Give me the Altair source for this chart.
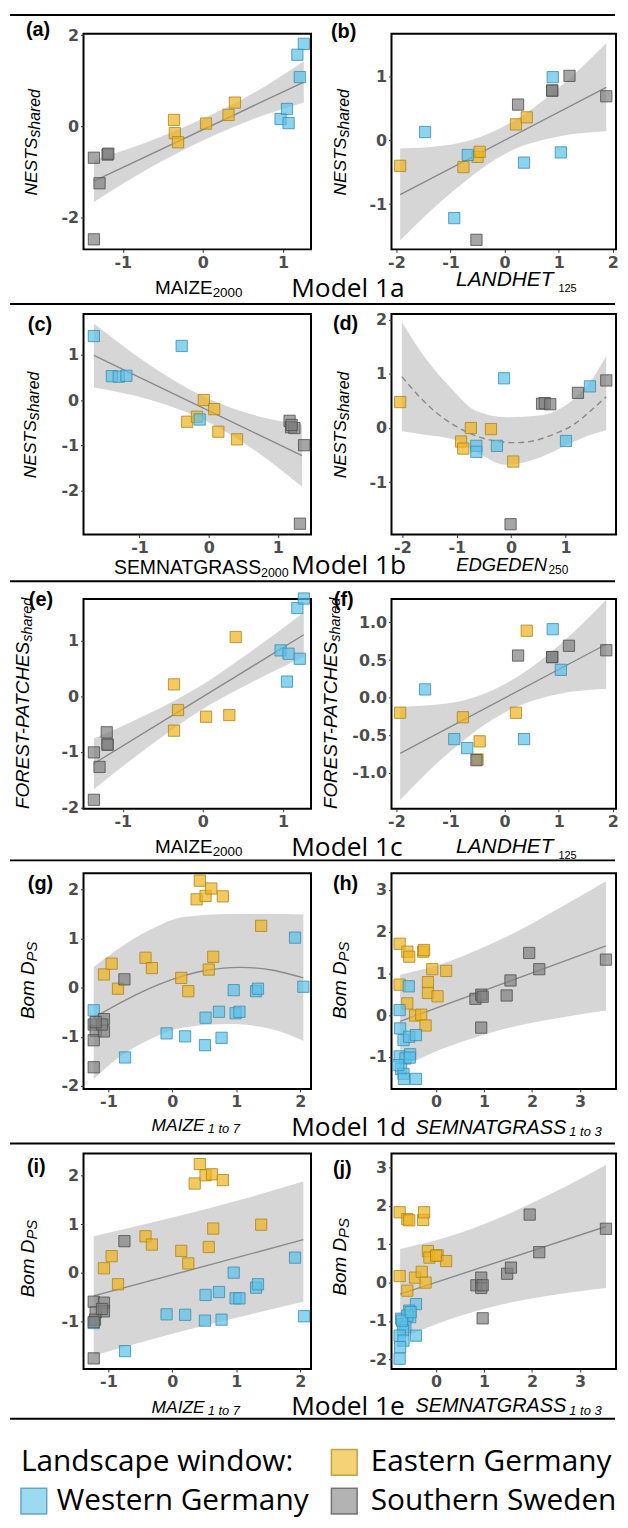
import altair as alt
import pandas as pd

GROUP_CODES = ["E", "W", "S"]
FILL_COLORS = ["#F0B41C", "#5BC0E8", "#808080"]
STROKE_COLORS = ["#A8841C", "#3A8CB0", "#4D4D4D"]

# ---------------- panel (a) NESTS ~ MAIZE2000
a_x = [-0.36, -0.35, -0.31, 0.04, 0.32, 0.40, 0.97, 1.05, 1.07, 1.21, 1.18, 1.26, -1.36, -1.19, -1.18, -1.29, -1.36]
a_y = [0.14, -0.15, -0.35, 0.06, 0.25, 0.52, 0.16, 0.38, 0.07, 1.08, 1.57, 1.81, -0.69, -0.62, -0.60, -1.25, -2.48]
a_g = ["E", "E", "E", "E", "E", "E", "W", "W", "W", "W", "W", "W", "S", "S", "S", "S", "S"]
a_lx = [-1.36, 1.26]
a_ly = [-1.20, 0.97]
a_bx = [-1.36, -0.7, 0.0, 0.6, 1.26]
a_blo = [-1.66, -0.95, -0.31, 0.14, 0.52]
a_bhi = [-0.74, -0.35, 0.17, 0.70, 1.43]

# ---------------- panel (b) NESTS ~ LANDHET125
b_x = [-1.93, -0.76, -0.50, -0.46, 0.21, 0.41, -1.47, -0.68, -0.93, 0.36, 0.89, 1.04, -0.52, 0.25, 0.88, 0.88, 1.20, 1.88]
b_y = [-0.40, -0.42, -0.26, -0.18, 0.25, 0.36, 0.13, -0.23, -1.22, -0.35, 0.99, -0.19, -1.56, 0.56, 0.78, 0.78, 1.01, 0.69]
b_g = ["E", "E", "E", "E", "E", "E", "W", "W", "W", "W", "W", "W", "S", "S", "S", "S", "S", "S"]
b_lx = [-1.93, 1.88]
b_ly = [-0.85, 0.83]
b_bx = [-1.93, -1.0, 0.1, 1.0, 1.88]
b_blo = [-1.57, -0.83, -0.17, 0.06, 0.14]
b_bhi = [-0.13, -0.07, 0.27, 0.82, 1.52]

# ---------------- panel (c) NESTS ~ SEMNATGRASS2000
c_x = [-0.31, -0.17, -0.07, 0.08, 0.14, 0.41, -1.66, -1.40, -1.30, -1.19, -0.39, -0.13, 1.17, 1.19, 1.24, 1.20, 1.38, 1.32]
c_y = [-0.48, -0.37, 0.00, -0.20, -0.70, -0.87, 1.42, 0.53, 0.52, 0.54, 1.20, -0.43, -0.46, -0.60, -0.62, -0.55, -1.00, -2.74]
c_g = ["E", "E", "E", "E", "E", "E", "W", "W", "W", "W", "W", "W", "S", "S", "S", "S", "S", "S"]
c_lx = [-1.66, 1.35]
c_ly = [0.99, -1.23]
c_bx = [-1.66, -0.9, 0.0, 0.7, 1.35]
c_blo = [0.28, 0.03, -0.49, -1.15, -1.92]
c_bhi = [1.70, 0.83, 0.03, -0.35, -0.54]

# ---------------- panel (d) NESTS ~ EDGEDEN250 (quadratic)
d_x = [-2.04, -0.92, -0.88, -0.74, -0.37, 0.04, -0.64, -0.64, -0.26, -0.13, 1.01, 1.45, 0.57, 0.62, 0.72, 1.23, 1.75, -0.01]
d_y = [0.48, -0.25, -0.38, 0.00, -0.02, -0.62, -0.33, -0.44, -0.33, 0.92, -0.24, 0.77, 0.45, 0.46, 0.44, 0.65, 0.88, -1.78]
d_g = ["E", "E", "E", "E", "E", "E", "W", "W", "W", "W", "W", "W", "S", "S", "S", "S", "S", "S"]
d_lx = [-2.01, -1.6, -1.2, -0.8, -0.4, 0.0, 0.4, 0.8, 1.2, 1.75]
d_ly = [0.95, 0.49, 0.15, -0.08, -0.22, -0.27, -0.24, -0.11, 0.10, 0.58]
d_bx = [-2.01, -1.56, -1.07, -0.67, -0.08, 0.52, 1.12, 1.48, 1.75]
d_blo = [-0.06, -0.13, -0.21, -0.43, -0.68, -0.55, -0.27, -0.12, -0.04]
d_bhi = [1.96, 1.27, 0.70, 0.33, 0.20, 0.23, 0.51, 0.89, 1.33]

# ---------------- panel (e) FOREST-PATCHES ~ MAIZE2000
e_x = [-0.36, -0.31, -0.36, 0.04, 0.33, 0.41, 0.97, 1.07, 1.21, 1.05, 1.18, 1.26, -1.36, -1.20, -1.19, -1.19, -1.29, -1.36]
e_y = [0.21, -0.25, -0.62, -0.37, -0.34, 1.06, 0.82, 0.76, 0.67, 0.26, 1.58, 1.75, -1.01, -0.65, -0.87, -0.87, -1.27, -1.86]
e_g = ["E", "E", "E", "E", "E", "E", "W", "W", "W", "W", "W", "W", "S", "S", "S", "S", "S", "S"]
e_lx = [-1.36, 1.26]
e_ly = [-1.21, 1.10]
e_bx = [-1.36, -0.7, 0.0, 0.6, 1.26]
e_blo = [-1.67, -0.93, -0.23, 0.24, 0.70]
e_bhi = [-0.76, -0.33, 0.21, 0.80, 1.50]

# ---------------- panel (f) FOREST-PATCHES ~ LANDHET125
f_x = [-1.93, -0.77, -0.50, -0.46, 0.21, 0.41, -1.47, -0.93, -0.69, 0.36, 0.89, 1.04, -0.52, 0.25, 0.88, 0.88, 1.19, 1.88]
f_y = [-0.20, -0.26, -0.82, -0.58, -0.20, 0.89, 0.11, -0.55, -0.67, -0.55, 0.91, 0.37, -0.83, 0.56, 0.54, 0.54, 0.69, 0.63]
f_g = ["E", "E", "E", "E", "E", "E", "W", "W", "W", "W", "W", "W", "S", "S", "S", "S", "S", "S"]
f_lx = [-1.93, 1.88]
f_ly = [-0.74, 0.71]
f_bx = [-1.93, -1.0, 0.1, 1.0, 1.88]
f_blo = [-1.36, -0.71, -0.16, 0.05, 0.12]
f_bhi = [-0.12, -0.07, 0.22, 0.69, 1.30]

# ---------------- panel (g) Bom D_PS ~ MAIZE 1 to 7 (quadratic)
g_x = [-1.07, -0.95, -0.85, -0.42, -0.32, 0.14, 0.25, 0.57, 0.64, 1.39, 0.38, 0.43, 0.52, 0.61, 0.79,
       -1.23, -0.74, -0.09, 0.20, 0.51, 0.52, 0.73, 0.77, 0.96, 0.99, 1.05, 1.31, 1.34, 1.92, 2.05,
       -1.23, -1.20, -1.23, -1.07, -1.07, -1.10, -1.23, -0.75, -1.20]
g_y = [0.27, 0.49, -0.02, 0.61, 0.40, 0.20, -0.07, 0.37, 0.63, 1.26, 1.80, 2.18, 1.87, 2.02, 1.86,
       -0.46, -1.42, -0.93, -0.99, -1.17, -0.61, -0.49, -1.02, -0.05, -0.52, -0.49, -0.07, -0.02, 1.02, 0.02,
       -0.75, -0.88, -1.07, -0.64, -0.89, -0.75, -1.62, 0.17, -0.70]
g_g = ["E"] * 15 + ["W"] * 15 + ["S"] * 9
g_lx = [-1.23, -0.8, -0.4, 0.0, 0.4, 0.8, 1.2, 1.6, 2.05]
g_ly = [-0.61, -0.30, -0.04, 0.17, 0.32, 0.40, 0.41, 0.35, 0.20]
g_bx = [-1.23, -0.86, -0.35, 0.18, 0.9, 1.4, 1.75, 2.05]
g_blo = [-1.86, -1.44, -1.05, -0.81, -0.74, -0.80, -0.92, -1.08]
g_bhi = [0.42, 0.78, 1.18, 1.44, 1.50, 1.50, 1.50, 1.49]

# ---------------- panel (h) Bom D_PS ~ SEMNATGRASS 1 to 3
h_x = [-0.76, -0.60, -0.56, -0.27, -0.25, -0.08, 0.21, -0.76, -0.17, -0.17, 0.03, -0.60, -0.44, -0.31, -0.22,
       -0.57, -0.76, -0.75, -0.68, -0.56, -0.42, -0.76, -0.64, -0.54, -0.73, -0.68, -0.67, -0.42, -0.79, -0.55,
       0.82, 0.94, 0.97, 0.94, 1.47, 1.55, 1.94, 2.15, 3.54]
h_y = [1.71, 1.52, 1.40, 1.52, 1.56, 1.10, 1.06, 0.73, 0.79, 0.53, 0.45, 0.28, -0.01, 0.01, -0.25,
       0.69, 0.12, -0.32, -0.60, -0.52, -0.48, -0.99, -1.04, -0.94, -1.29, -1.41, -1.53, -1.53, -1.20, -1.02,
       0.39, 0.49, 0.44, -0.30, 0.47, 0.83, 1.49, 1.10, 1.33]
h_g = ["E"] * 15 + ["W"] * 15 + ["S"] * 9
h_lx = [-0.75, 3.54]
h_ly = [-0.15, 1.66]
h_bx = [-0.75, 0.13, 1.0, 1.49, 2.5, 3.54]
h_blo = [-1.27, -0.81, -0.47, -0.31, -0.08, 0.11]
h_bhi = [0.97, 1.23, 1.63, 1.89, 2.52, 3.21]

# ---------------- panel (i) Bom D_PS ~ MAIZE 1 to 7
i_x = [-1.07, -0.95, -0.85, -0.42, -0.32, 0.14, 0.25, 0.57, 0.64, 1.39, 0.43, 0.35, 0.52, 0.62, 0.79,
       -1.23, -0.74, -0.09, 0.20, 0.51, 0.52, 0.73, 0.77, 0.96, 0.99, 1.05, 1.31, 1.34, 1.92, 2.06,
       -0.75, -1.23, -1.07, -1.20, -1.07, -1.21, -1.23, -1.10, -1.23]
i_y = [0.09, 0.34, -0.24, 0.75, 0.58, 0.45, 0.19, 0.53, 0.91, 0.99, 2.24, 1.84, 2.01, 2.03, 1.91,
       -1.04, -1.62, -0.86, -0.87, -0.99, -0.46, -0.40, -0.97, 0.00, -0.53, -0.53, -0.31, -0.24, 0.31, -0.90,
       0.65, -0.60, -0.62, -0.82, -0.80, -0.97, -1.77, -0.75, -1.02]
i_g = ["E"] * 15 + ["W"] * 15 + ["S"] * 9
i_lx = [-1.23, 2.05]
i_ly = [-0.48, 0.68]
i_bx = [-1.23, 0.0, 1.0, 2.05]
i_blo = [-1.71, -1.26, -0.93, -0.60]
i_bhi = [0.75, 1.14, 1.48, 1.88]

# ---------------- panel (j) Bom D_PS ~ SEMNATGRASS 1 to 3
j_x = [-0.76, -0.60, -0.56, -0.27, -0.25, -0.17, -0.14, 0.03, 0.21, -0.76, -0.60, -0.44, -0.30, -0.22, 0.00,
       -0.42, -0.56, -0.54, -0.73, -0.68, -0.64, -0.69, -0.76, -0.42, -0.68, -0.75, -0.76, -0.60, -0.71, -0.53,
       0.84, 0.94, 0.94, 0.97, 0.97, 1.48, 1.56, 1.95, 2.15, 3.54]
j_y = [1.83, 1.65, 1.62, 1.63, 1.83, 0.82, 0.65, 0.71, 0.56, 0.17, -0.21, 0.13, 0.28, 0.00, 0.70,
       -0.56, -0.73, -0.90, -0.94, -1.08, -1.16, -1.24, -1.38, -1.38, -1.51, -1.68, -1.98, -0.86, -0.99, -0.77,
       -0.07, 0.13, -0.14, -0.07, -0.93, 0.23, 0.39, 1.77, 0.79, 1.40]
j_g = ["E"] * 15 + ["W"] * 15 + ["S"] * 10
j_lx = [-0.75, 3.54]
j_ly = [-0.30, 1.46]
j_bx = [-0.75, 0.3, 1.2, 2.3, 3.54]
j_blo = [-1.475, -0.95, -0.62, -0.35, -0.14]
j_bhi = [0.875, 1.21, 1.62, 2.25, 3.06]

LEGEND_TITLE = "Landscape window:"
LEGEND_LABELS = ["Eastern Germany", "Western Germany", "Southern Sweden"]

LS = "Liberation Sans"
OS = "Open Sans"
ONE = pd.DataFrame({"k": [0]})
LW, RW = 229, 226
RX1, RX2 = -384, 225   # separator rule ends, relative to a right-hand panel


def txt(s, x, y, size, font=LS, italic=False, bold=False, align="left", angle=0, color="black"):
    mk = dict(text=s, font=font, fontSize=size, align=align, baseline="alphabetic", color=color)
    if italic:
        mk["fontStyle"] = "italic"
    if bold:
        mk["fontWeight"] = "bold"
    if angle:
        mk["angle"] = angle
    return alt.Chart(ONE).mark_text(**mk).encode(x=alt.value(x), y=alt.value(y))


def hline(x1, x2, y):
    return alt.Chart(ONE).mark_rule(color="black", strokeWidth=2).encode(
        x=alt.value(x1), x2=alt.value(x2), y=alt.value(y))


def legend_square(idx, x, y):
    return alt.Chart(ONE).mark_point(
        shape="square", filled=True, size=676, fill=FILL_COLORS[idx], stroke=STROKE_COLORS[idx],
        strokeWidth=1.5, fillOpacity=0.6, strokeOpacity=0.7, opacity=1).encode(x=alt.value(x), y=alt.value(y))


def lab_expr(fmt):
    return f"datum.value < 0 ? '-' + format(-datum.value, '{fmt}') : format(datum.value, '{fmt}')"


def panel(px, py, pg, bx, blo, bhi, lx, ly, xdom, ydom, xticks, yticks, w, h, yfmt="d",
          dashed=False, extras=()):
    xs = alt.Scale(domain=xdom, nice=False, zero=False)
    ys = alt.Scale(domain=ydom, nice=False, zero=False)
    xa = alt.Axis(values=xticks, title=None, labelExpr=lab_expr("d"))
    ya = alt.Axis(values=yticks, title=None, labelExpr=lab_expr(yfmt))
    band = alt.Chart(pd.DataFrame({"x": bx, "lo": blo, "hi": bhi})).mark_area(
        color="#999999", opacity=0.4, interpolate="monotone").encode(
        x=alt.X("x:Q", scale=xs, axis=xa), y=alt.Y("lo:Q", scale=ys, axis=ya), y2="hi:Q")
    lkw = dict(color="#8A8A8A", strokeWidth=1.4, interpolate="natural")
    if dashed:
        lkw["strokeDash"] = [6, 4]
    line = alt.Chart(pd.DataFrame({"x": lx, "y": ly})).mark_line(**lkw).encode(
        x=alt.X("x:Q", scale=xs, axis=xa), y=alt.Y("y:Q", scale=ys, axis=ya))
    pts = alt.Chart(pd.DataFrame({"x": px, "y": py, "g": pg})).mark_point(
        shape="square", filled=True, size=128, strokeWidth=1, fillOpacity=0.7, strokeOpacity=0.8,
        opacity=1).encode(
        x=alt.X("x:Q", scale=xs, axis=xa), y=alt.Y("y:Q", scale=ys, axis=ya),
        fill=alt.Fill("g:N", scale=alt.Scale(domain=GROUP_CODES, range=FILL_COLORS), legend=None),
        stroke=alt.Stroke("g:N", scale=alt.Scale(domain=GROUP_CODES, range=STROKE_COLORS), legend=None))
    return alt.layer(band, line, pts, *extras).properties(width=w, height=h)


H1, H2, H3, H4, H5 = 217, 222, 211, 217, 217

pa = panel(a_x, a_y, a_g, a_bx, a_blo, a_bhi, a_lx, a_ly, [-1.49, 1.35], [-2.70, 2.03], [-1, 0, 1], [-2, 0, 2],
           LW, H1, extras=[
               txt("(a)", -58, 2, 20, bold=True),
               txt("MAIZE", 130, 262, 19, align="right"),
               txt("2000", 130, 265, 13.5),
               txt("NESTS", -46.5, 104.5, 17.5, italic=True, align="right", angle=270),
               txt("shared", -43.5, 104.5, 16, italic=True, angle=270),
               hline(-74, 535, -19)])

pb = panel(b_x, b_y, b_g, b_bx, b_blo, b_bhi, b_lx, b_ly, [-2.09, 2.06], [-1.71, 1.67], [-2, -1, 0, 1, 2],
           [-1, 0, 1], RW, H1, extras=[
               txt("(b)", -61, 4, 20, bold=True),
               txt("LANDHET", 163, 254, 21, italic=True, align="right"),
               txt("125", 168, 260, 11),
               txt("NESTS", -46, 104.5, 17.5, italic=True, align="right", angle=270),
               txt("shared", -43, 104.5, 16, italic=True, angle=270),
               txt("Model 1a", -101, 265, 26.5, font=OS),
               hline(RX1, RX2, 272)])

pc = panel(c_x, c_y, c_g, c_bx, c_blo, c_bhi, c_lx, c_ly, [-1.81, 1.48], [-2.98, 1.91], [-1, 0, 1],
           [-2, -1, 0, 1], LW, H2, extras=[
               txt("(c)", -56, 17, 20, bold=True),
               txt("SEMNATGRASS", 178.7, 262, 19.5, align="right"),
               txt("2000", 178.7, 265, 12.5),
               txt("NESTS", -47.5, 107, 17.5, italic=True, align="right", angle=270),
               txt("shared", -44.5, 107, 16, italic=True, angle=270)])

pd_ = panel(d_x, d_y, d_g, d_bx, d_blo, d_bhi, d_lx, d_ly, [-2.20, 1.93], [-1.97, 2.11], [-2, -1, 0, 1],
            [-1, 0, 1, 2], RW, H2, dashed=True, extras=[
                txt("(d)", -59, 16, 20, bold=True),
                txt("EDGEDEN", 156.5, 259, 18.5, italic=True, align="right"),
                txt("250", 158, 262, 12),
                txt("NESTS", -46, 107, 17.5, italic=True, align="right", angle=270),
                txt("shared", -43, 107, 16, italic=True, angle=270),
                txt("Model 1b", -101, 262, 26.5, font=OS),
                hline(RX1, RX2, 269)])

pe = panel(e_x, e_y, e_g, e_bx, e_blo, e_bhi, e_lx, e_ly, [-1.49, 1.35], [-2.02, 1.74], [-1, 0, 1],
           [-2, -1, 0, 1], LW, H3, extras=[
               txt("(e)", -55, 7, 20, bold=True),
               txt("MAIZE", 130, 256, 19, align="right"),
               txt("2000", 130, 259, 13.5),
               txt("FOREST-PATCHES", -55, 43, 19, italic=True, align="right", angle=270),
               txt("shared", -52, 43, 14.5, italic=True, angle=270)])

pf = panel(f_x, f_y, f_g, f_bx, f_blo, f_bhi, f_lx, f_ly, [-2.09, 2.06], [-1.475, 1.31], [-2, -1, 0, 1, 2],
           [-1, -0.5, 0, 0.5, 1], RW, H3, yfmt=".1f", extras=[
               txt("(f)", -58, 7, 20, bold=True),
               txt("LANDHET", 163, 256, 21, italic=True, align="right"),
               txt("125", 168, 262, 11),
               txt("FOREST-PATCHES", -55, 43, 19, italic=True, align="right", angle=270),
               txt("shared", -52, 43, 14.5, italic=True, angle=270),
               txt("Model 1c", -101, 259, 26.5, font=OS),
               hline(RX1, RX2, 263)])

pg = panel(g_x, g_y, g_g, g_bx, g_blo, g_bhi, g_lx, g_ly, [-1.39, 2.17], [-2.06, 2.33], [-1, 0, 1, 2],
           [-2, -1, 0, 1, 2], LW, H4, extras=[
               txt("(g)", -56, 17, 20, bold=True),
               txt("MAIZE", 122, 259, 17.5, italic=True, align="right"),
               txt("1 to 7", 125, 261, 13, italic=True),
               txt("Bom D", -50, 88.7, 19, italic=True, align="right", angle=270),
               txt("PS", -47, 88.7, 15, italic=True, angle=270)])

ph = panel(h_x, h_y, h_g, h_bx, h_blo, h_bhi, h_lx, h_ly, [-0.93, 3.75], [-1.77, 3.40], [0, 1, 2, 3],
           [-1, 0, 1, 2, 3], RW, H4, extras=[
               txt("(h)", -59, 17, 20, bold=True),
               txt("SEMNATGRASS", 176, 262, 20, italic=True, align="right"),
               txt("1 to 3", 179, 264, 13, italic=True),
               txt("Bom D", -46, 88.7, 19, italic=True, align="right", angle=270),
               txt("PS", -43, 88.7, 15, italic=True, angle=270),
               txt("Model 1d", -101, 264, 26.5, font=OS),
               hline(RX1, RX2, 272)])

pi = panel(i_x, i_y, i_g, i_bx, i_blo, i_bhi, i_lx, i_ly, [-1.39, 2.17], [-1.99, 2.46], [-1, 0, 1, 2],
           [-2, -1, 0, 1, 2], LW, H5, extras=[
               txt("(i)", -57, 20, 20, bold=True),
               txt("MAIZE", 122, 261, 17.5, italic=True, align="right"),
               txt("1 to 7", 125, 263, 13, italic=True),
               txt("Bom D", -50, 86.7, 19, italic=True, align="right", angle=270),
               txt("PS", -47, 86.7, 15, italic=True, angle=270),
               txt(LEGEND_TITLE, -63, 320, 30, font=OS),
               legend_square(0, 262.5, 311),
               txt(LEGEND_LABELS[0], 289, 320, 30, font=OS),
               legend_square(1, -50, 350),
               txt(LEGEND_LABELS[1], -27, 359, 30, font=OS),
               legend_square(2, 262.5, 350),
               txt(LEGEND_LABELS[2], 289, 359, 30, font=OS)])

pj = panel(j_x, j_y, j_g, j_bx, j_blo, j_bhi, j_lx, j_ly, [-0.93, 3.75], [-2.25, 3.36], [0, 1, 2, 3],
           [-2, -1, 0, 1, 2, 3], RW, H5, extras=[
               txt("(j)", -59, 22, 20, bold=True),
               txt("SEMNATGRASS", 176, 260, 20, italic=True, align="right"),
               txt("1 to 3", 179, 263, 13, italic=True),
               txt("Bom D", -46, 85, 19, italic=True, align="right", angle=270),
               txt("PS", -43, 85, 15, italic=True, angle=270),
               txt("Model 1e", -101, 263, 26.5, font=OS),
               hline(RX1, RX2, 267)])

chart = alt.concat(pa, pb, pc, pd_, pe, pf, pg, ph, pi, pj, columns=2,
                   spacing={"row": 65, "column": 81}, bounds="flush", padding=0).properties(
    background="white"
).configure_view(stroke="black", strokeWidth=2).configure_axis(
    labelFont="DejaVu Sans", labelFontSize=16, labelFontWeight="bold", labelColor="#4D4D4D",
    tickColor="#333333", tickSize=3, tickWidth=1, domain=False, grid=False, labelPadding=2,
    labelFlush=False, labelOverlap=False)

chart.save("out.html", embed_options={"renderer": "svg", "actions": False})
